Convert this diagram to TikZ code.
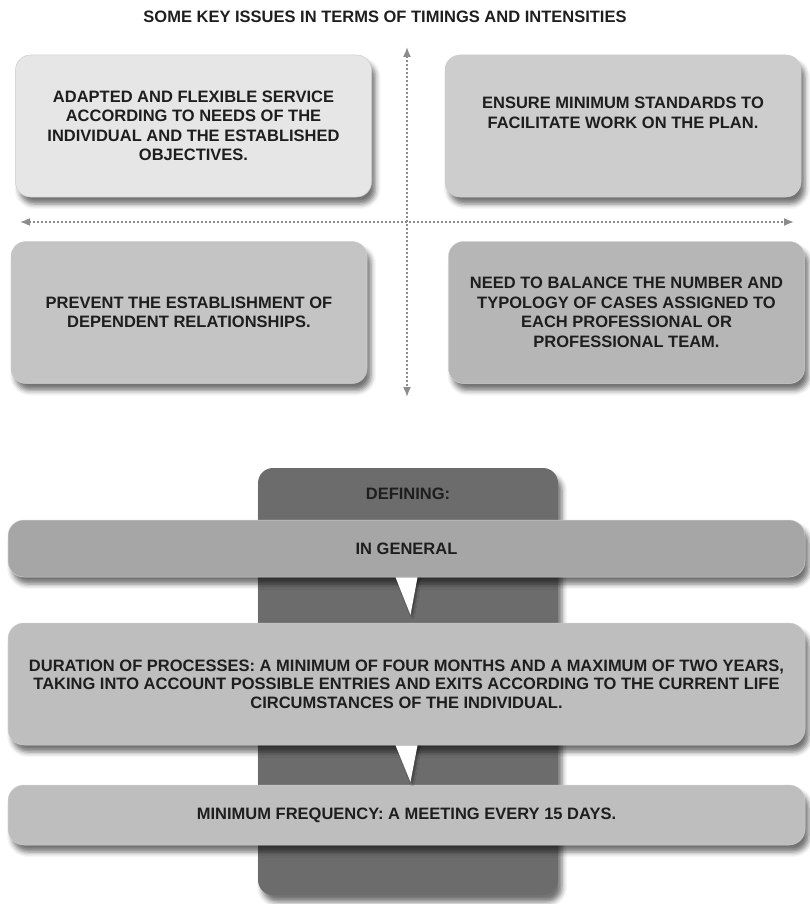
\documentclass[tikz,border=0pt]{standalone}
\usepackage{fontspec}
\setmainfont{Liberation Sans}
\usetikzlibrary{positioning,shadows.blur,arrows.meta,calc}

\definecolor{inktext}{HTML}{1E1E1E}
\definecolor{paleissue}{HTML}{E6E6E6}
\definecolor{midissue}{HTML}{CDCDCD}
\definecolor{greyissue}{HTML}{C4C4C4}
\definecolor{darkissue}{HTML}{B6B6B6}
\definecolor{spinegrey}{HTML}{6C6C6C}
\definecolor{generalbar}{HTML}{A6A6A6}
\definecolor{stepbar}{HTML}{BEBEBE}

\tikzset{
	soft/.style={blur shadow={shadow xshift=4pt, shadow yshift=-7pt, shadow blur radius=5pt, shadow opacity=55}},
	issue/.style={soft, rounded corners=15pt, minimum width=356pt, minimum height=142pt,
		draw=white!80!black, line width=0.5pt,
		align=center, text=inktext, font=\bfseries\fontsize{16.5}{19.5}\selectfont},
	bar/.style={soft, rounded corners=16pt, minimum width=797pt,
		draw=white!80!black, line width=0.5pt,
		align=center, text=inktext, font=\bfseries\fontsize{16.5}{18.5}\selectfont},
	label/.style={align=center, text=inktext, font=\bfseries\fontsize{16.5}{19.5}\selectfont},
	axis/.style={draw=black!45, line width=1.6pt, dash pattern=on 1.4pt off 2.6pt,
		{Latex[length=10pt,width=8pt]}-{Latex[length=10pt,width=8pt]}},
	pointer/.style={fill=white, blur shadow={shadow xshift=2pt, shadow yshift=-2pt, shadow blur radius=2pt, shadow opacity=40}}
}

\begin{document}
\begin{tikzpicture}[x=1pt, y=-1pt]
	\useasboundingbox (0,0) rectangle (809,904);

	% timings and intensities
	\node[label] (title) at (385,17) {SOME KEY ISSUES IN TERMS OF TIMINGS AND INTENSITIES};

	\coordinate (west) at (20,222);
	\coordinate (east) at (794,222);
	\coordinate (north) at (407,47);
	\coordinate (south) at (407,397);

	\node[issue, fill=paleissue] (adapted) at (193.5,126) {ADAPTED AND FLEXIBLE SERVICE\\ACCORDING TO NEEDS OF THE\\INDIVIDUAL AND THE ESTABLISHED\\OBJECTIVES.};
	\node[issue, fill=midissue] (ensure) at (623,126) {};
	\node[label, below=39pt of ensure.north] (ensuretext) {ENSURE MINIMUM STANDARDS TO\\FACILITATE WORK ON THE PLAN.};
	\node[issue, fill=greyissue] (prevent) at (189,312.5) {PREVENT THE ESTABLISHMENT OF\\DEPENDENT RELATIONSHIPS.};
	\node[issue, fill=darkissue] (balance) at (626.5,312.5) {NEED TO BALANCE THE NUMBER AND\\TYPOLOGY OF CASES ASSIGNED TO\\EACH PROFESSIONAL OR\\PROFESSIONAL TEAM.};

	\draw[axis] (west) -- (east);
	\draw[axis] (north) -- (south);

	% defining
	\node[soft, rounded corners=15pt, fill=spinegrey, minimum width=300pt, minimum height=427pt] (spine) at (408,681.5) {};
	\node[label, below=17pt of spine.north] (defining) {DEFINING:};

	\node[bar, fill=generalbar, minimum height=57pt] (general) at (406.5,548.5) {IN GENERAL};
	\node[bar, fill=stepbar, minimum height=122pt] (duration) at (406.5,684) {DURATION OF PROCESSES: A MINIMUM OF FOUR MONTHS AND A MAXIMUM OF TWO YEARS,\\TAKING INTO ACCOUNT POSSIBLE ENTRIES AND EXITS ACCORDING TO THE CURRENT LIFE\\CIRCUMSTANCES OF THE INDIVIDUAL.};
	\node[bar, fill=stepbar, minimum height=60pt] (frequency) at (406.5,815) {MINIMUM FREQUENCY: A MEETING EVERY 15 DAYS.};

	\fill[pointer] ([xshift=-11pt]general.south) -- ([xshift=11pt]general.south) -- ($(duration.north)+(4,-8)$) -- cycle;
	\fill[pointer] ([xshift=-11pt]duration.south) -- ([xshift=11pt]duration.south) -- ($(frequency.north)+(4,-3)$) -- cycle;
\end{tikzpicture}
\end{document}
